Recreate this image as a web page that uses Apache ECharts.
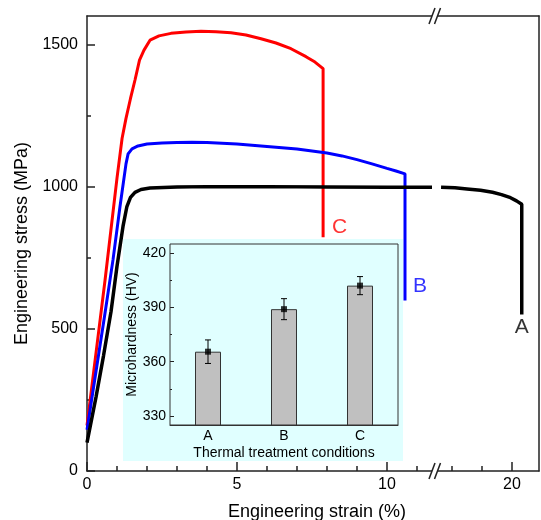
<!DOCTYPE html>
<html>
<head>
<meta charset="utf-8">
<script src="https://cdn.jsdelivr.net/npm/echarts@6/dist/echarts.min.js"></script>
<style>
  html, body { margin: 0; padding: 0; background: #fff; }
  #main { width: 541px; height: 520px; }
</style>
</head>
<body>
<div id="main"></div>
<script>
// tensile curves: strain (%) / stress (MPa)
const strainC = [0, 0.2, 0.4, 0.6, 0.8, 1.0, 1.17, 1.3, 1.45, 1.6, 1.75, 1.9, 2.1, 2.4, 2.8, 3.3, 3.8, 4.3, 4.8, 5.3, 5.8, 6.3, 6.8, 7.3, 7.6, 7.87, 7.87]
const stressC = [160, 330, 500, 670, 850, 1030, 1170, 1240, 1310, 1375, 1445, 1480, 1515, 1530, 1539, 1544, 1546, 1545, 1541, 1533, 1520, 1505, 1485, 1457, 1438, 1415, 822]

const strainB = [0, 0.3, 0.6, 0.87, 1.1, 1.3, 1.37, 1.5, 1.7, 2.0, 2.5, 3.0, 3.5, 4.0, 5.0, 6.0, 7.0, 8.0, 8.5, 9.0, 9.5, 10.0, 10.3, 10.6, 10.6]
const stressB = [145, 350, 555, 745, 930, 1080, 1115, 1133, 1143, 1150, 1153, 1155, 1156, 1155, 1150, 1141, 1132, 1118, 1108, 1095, 1080, 1064, 1055, 1045, 600]

// curve A is split by the axis break
const strainA1 = [0, 0.3, 0.55, 0.8, 1.0, 1.2, 1.33, 1.45, 1.6, 1.8, 2.1, 3, 4, 6, 8, 10, 11.5]
const stressA1 = [100, 260, 405, 560, 720, 860, 930, 962, 980, 990, 995, 999, 1000, 1000, 999, 998, 998]
const strainA2 = [15.27, 16.2, 17.0, 17.9, 18.7, 19.3, 19.9, 20.3, 20.65, 20.65]
const stressA2 = [998, 996, 992, 987, 980, 972, 961, 950, 938, 550]

const curveNames = ['C', 'B', 'A']

// axis ticks
const strainMajor1 = [0, 5, 10]
const strainMinor1 = [1, 2, 3, 4, 6, 7, 8, 9, 11]
const strainMajor2 = [20]
const strainMinor2 = [16, 18]
const stressMajor = [0, 500, 1000, 1500]
const stressMinor = [250, 750, 1250]

// inset: microhardness
const conditions = ['A', 'B', 'C']
const hardness = [365.5, 389, 402]
const hardnessErr = [6.5, 5.8, 5]
const hvMajor = [330, 360, 390, 420]
const hvMinor = [345, 375, 405]

function zip (xs, ys) {
  return xs.map((x, i) => [x, ys[i]])
}

const font = 'Liberation Sans, Arial, sans-serif'
const axisColor = '#222'
const lineAxis = { onZero: false, lineStyle: { color: axisColor, width: 1.5 } }
const noLine = { show: false, onZero: false }
const noLabel = { show: false }
const noSplit = { show: false }
const plain = v => String(v)

function tickAxis (values, len, width) {
  return { show: true, inside: true, length: len, customValues: values, lineStyle: { color: axisColor, width: width || 1.5 } }
}

let chart = echarts.init(document.getElementById('main'))

let option = {
  animation: false,
  textStyle: { fontFamily: font },
  grid: [
    { left: 87, top: 16, width: 348, height: 455, outerBoundsMode: 'none' },
    { left: 435, top: 16, width: 104, height: 455, outerBoundsMode: 'none' },
    { left: 170, top: 244, width: 228, height: 181, outerBoundsMode: 'none', z: 1,
      show: true, borderColor: '#333', borderWidth: 1, backgroundColor: 'transparent' }
  ],
  xAxis: [
    { // 0 main strain, left part
      type: 'value', gridIndex: 0, min: 0, max: 11.6, position: 'bottom',
      name: 'Engineering strain (%)', nameLocation: 'middle', nameGap: 32,
      nameTextStyle: { fontSize: 18, color: '#000', fontFamily: font, padding: [0, 0, 0, 112] },
      axisLine: lineAxis, axisTick: tickAxis(strainMajor1, 9),
      axisLabel: { customValues: strainMajor1, formatter: plain, fontSize: 16, color: '#000', margin: 6 },
      splitLine: noSplit
    },
    { // 1 minor ticks
      type: 'value', gridIndex: 0, min: 0, max: 11.6, position: 'bottom',
      axisLine: noLine, axisTick: tickAxis(strainMinor1, 5), axisLabel: noLabel, splitLine: noSplit
    },
    { // 2 top frame
      type: 'value', gridIndex: 0, min: 0, max: 11.6, position: 'top',
      axisLine: lineAxis, axisTick: { show: false }, axisLabel: noLabel, splitLine: noSplit
    },
    { // 3 main strain, right part after break
      type: 'value', gridIndex: 1, min: 14.867, max: 21.8, position: 'bottom',
      axisLine: lineAxis, axisTick: tickAxis(strainMajor2, 9),
      axisLabel: { customValues: strainMajor2, formatter: plain, fontSize: 16, color: '#000', margin: 6 },
      splitLine: noSplit
    },
    { // 4 minor ticks
      type: 'value', gridIndex: 1, min: 14.867, max: 21.8, position: 'bottom',
      axisLine: noLine, axisTick: tickAxis(strainMinor2, 5), axisLabel: noLabel, splitLine: noSplit
    },
    { // 5 top frame
      type: 'value', gridIndex: 1, min: 14.867, max: 21.8, position: 'top',
      axisLine: lineAxis, axisTick: { show: false }, axisLabel: noLabel, splitLine: noSplit
    },
    { // 6 inset categories
      type: 'category', gridIndex: 2, data: conditions, position: 'bottom',
      name: 'Thermal treatment conditions', nameLocation: 'middle', nameGap: 21,
      nameTextStyle: { fontSize: 14, color: '#000', fontFamily: font },
      axisLine: { onZero: false, lineStyle: { color: '#333', width: 1 } },
      axisTick: { inside: true, alignWithLabel: true, length: 4, lineStyle: { color: '#333' } },
      axisLabel: { fontSize: 14, color: '#000', margin: 4 }
    },
    { // 7 inset boundary ticks
      type: 'category', gridIndex: 2, data: conditions, position: 'bottom',
      axisLine: noLine, axisTick: { inside: true, length: 2, lineStyle: { color: '#333' } },
      axisLabel: noLabel
    }
  ],
  yAxis: [
    { // 0 stress
      type: 'value', gridIndex: 0, min: 0, max: 1600, position: 'left',
      name: 'Engineering stress (MPa)', nameLocation: 'middle', nameGap: 56,
      nameTextStyle: { fontSize: 18, color: '#000', fontFamily: font },
      axisLine: lineAxis, axisTick: tickAxis(stressMajor, 8),
      axisLabel: { customValues: stressMajor, formatter: plain, fontSize: 16, color: '#000', margin: 9 },
      splitLine: noSplit
    },
    { // 1 minor ticks
      type: 'value', gridIndex: 0, min: 0, max: 1600, position: 'left',
      axisLine: noLine, axisTick: tickAxis(stressMinor, 4), axisLabel: noLabel, splitLine: noSplit
    },
    { // 2 right frame
      type: 'value', gridIndex: 1, min: 0, max: 1600, position: 'right',
      axisLine: lineAxis, axisTick: { show: false }, axisLabel: noLabel, splitLine: noSplit
    },
    { // 3 inset hardness
      type: 'value', gridIndex: 2, min: 325, max: 425, position: 'left',
      name: 'Microhardness (HV)', nameLocation: 'middle', nameGap: 31,
      nameTextStyle: { fontSize: 14, color: '#000', fontFamily: font },
      axisLine: { onZero: false, lineStyle: { color: '#333', width: 1 } },
      axisTick: tickAxis(hvMajor, 4, 1),
      axisLabel: { customValues: hvMajor, formatter: plain, fontSize: 14, color: '#000', margin: 4 },
      splitLine: noSplit
    },
    { // 4 inset minor ticks
      type: 'value', gridIndex: 2, min: 325, max: 425, position: 'left',
      axisLine: noLine, axisTick: tickAxis(hvMinor, 2, 1), axisLabel: noLabel, splitLine: noSplit
    }
  ],
  graphic: [
    // inset background
    { type: 'rect', z: -1, shape: { x: 123, y: 239, width: 280, height: 222 }, style: { fill: '#e0ffff' } },
    // axis break marks
    { type: 'rect', z: 100, shape: { x: 432, y: 13, width: 5.5, height: 6 }, style: { fill: '#fff' } },
    { type: 'line', z: 101, shape: { x1: 429, y1: 24, x2: 435, y2: 8 }, style: { stroke: axisColor, lineWidth: 1.5 } },
    { type: 'line', z: 101, shape: { x1: 434.5, y1: 24, x2: 440.5, y2: 8 }, style: { stroke: axisColor, lineWidth: 1.5 } },
    { type: 'rect', z: 100, shape: { x: 432, y: 468, width: 5.5, height: 6 }, style: { fill: '#fff' } },
    { type: 'line', z: 101, shape: { x1: 429, y1: 479, x2: 435, y2: 463 }, style: { stroke: axisColor, lineWidth: 1.5 } },
    { type: 'line', z: 101, shape: { x1: 434.5, y1: 479, x2: 440.5, y2: 463 }, style: { stroke: axisColor, lineWidth: 1.5 } }
  ],
  series: [
    {
      name: 'C', type: 'line', xAxisIndex: 0, yAxisIndex: 0, showSymbol: false, symbol: 'none',
      data: zip(strainC, stressC), lineStyle: { color: '#ff0000', width: 3 }
    },
    {
      name: 'B', type: 'line', xAxisIndex: 0, yAxisIndex: 0, showSymbol: false, symbol: 'none',
      data: zip(strainB, stressB), lineStyle: { color: '#0000ff', width: 3 }
    },
    {
      name: 'A', type: 'line', xAxisIndex: 0, yAxisIndex: 0, showSymbol: false, symbol: 'none',
      data: zip(strainA1, stressA1), lineStyle: { color: '#000', width: 3.5 }
    },
    {
      name: 'A2', type: 'line', xAxisIndex: 3, yAxisIndex: 2, showSymbol: false, symbol: 'none',
      data: zip(strainA2, stressA2), lineStyle: { color: '#000', width: 3.5 }
    },
    // curve letters at the fracture points
    {
      type: 'scatter', xAxisIndex: 0, yAxisIndex: 0, symbolSize: 0, z: 5,
      data: [
        { value: [strainC[strainC.length - 1], stressC[stressC.length - 1]], name: curveNames[0],
          label: { color: '#ff0000', offset: [4, -10] } },
        { value: [strainB[strainB.length - 1], stressB[stressB.length - 1]], name: curveNames[1],
          label: { color: '#0000ff', offset: [3, -14] } }
      ],
      label: { show: true, position: 'right', formatter: '{b}', fontSize: 21, fontFamily: font }
    },
    {
      type: 'scatter', xAxisIndex: 3, yAxisIndex: 2, symbolSize: 0, z: 5,
      data: [
        { value: [strainA2[strainA2.length - 1], stressA2[stressA2.length - 1]], name: curveNames[2] }
      ],
      label: { show: true, position: 'right', formatter: '{b}', fontSize: 21, fontFamily: font,
        color: '#000', offset: [-12, 13] }
    },
    // inset bars with error bars
    {
      type: 'bar', xAxisIndex: 6, yAxisIndex: 3, data: hardness, barWidth: 26, z: 3,
      itemStyle: { color: '#c0c0c0', borderColor: '#333', borderWidth: 1 }
    },
    {
      type: 'custom', xAxisIndex: 6, yAxisIndex: 3, z: 4,
      data: hardness.map((v, i) => [i, v - hardnessErr[i], v + hardnessErr[i]]),
      renderItem: function (params, api) {
        let lo = api.coord([api.value(0), api.value(1)])
        let hi = api.coord([api.value(0), api.value(2)])
        let st = { stroke: '#000', lineWidth: 1 }
        return {
          type: 'group',
          children: [
            { type: 'line', shape: { x1: lo[0], y1: lo[1], x2: hi[0], y2: hi[1] }, style: st },
            { type: 'line', shape: { x1: lo[0] - 3, y1: lo[1], x2: lo[0] + 3, y2: lo[1] }, style: st },
            { type: 'line', shape: { x1: hi[0] - 3, y1: hi[1], x2: hi[0] + 3, y2: hi[1] }, style: st }
          ]
        }
      }
    },
    {
      type: 'scatter', xAxisIndex: 6, yAxisIndex: 3, z: 5, symbol: 'rect', symbolSize: 6,
      data: hardness, itemStyle: { color: '#000' }
    }
  ]
}

chart.setOption(option)
</script>
</body>
</html>
